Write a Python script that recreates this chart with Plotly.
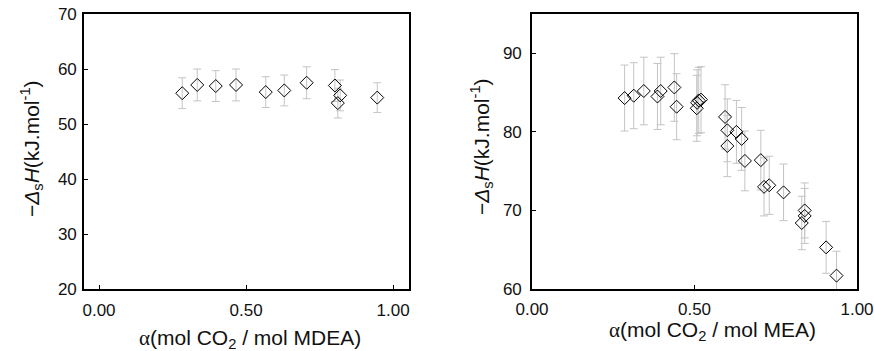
import plotly.graph_objects as go

# Left panel: MDEA
mdea_alpha = [0.283, 0.334, 0.397, 0.466, 0.567, 0.630, 0.706, 0.802, 0.820, 0.812, 0.946]
mdea_dh = [55.6, 57.1, 56.9, 57.1, 55.8, 56.1, 57.5, 57.0, 55.2, 53.8, 54.8]
mdea_err = [2.8, 2.9, 2.8, 2.9, 2.8, 2.8, 2.9, 2.9, 2.8, 2.7, 2.7]

# Right panel: MEA
mea_alpha = [0.285, 0.313, 0.344, 0.386, 0.396, 0.438, 0.445, 0.507, 0.508, 0.513, 0.520,
             0.594, 0.601, 0.601, 0.629, 0.645, 0.655, 0.704, 0.714, 0.730, 0.774,
             0.839, 0.839, 0.830, 0.905, 0.937]
mea_dh = [84.3, 84.6, 85.2, 84.5, 85.2, 85.65, 83.2, 83.0, 83.7, 84.0, 84.1,
          81.9, 80.2, 78.2, 80.0, 79.1, 76.3, 76.4, 73.0, 73.2, 72.3,
          70.0, 69.3, 68.4, 65.3, 61.7]
mea_err = [4.2, 4.2, 4.3, 4.2, 4.3, 4.3, 4.2, 4.2, 4.2, 4.2, 4.2,
           4.1, 4.0, 3.9, 4.0, 4.0, 3.8, 3.8, 3.7, 3.7, 3.6,
           3.5, 3.5, 3.4, 3.3, 3.1]

x_ticks = [0.0, 0.5, 1.0]
x_ticklabels = ["0.00", "0.50", "1.00"]
left_yticks = [20, 30, 40, 50, 60, 70]
right_yticks = [60, 70, 80, 90]

FONT = "Liberation Sans, Arial, sans-serif"

fig = go.Figure()

marker = dict(symbol="diamond-open", size=10, color="black", line=dict(width=1, color="black"))
errstyle = dict(type="data", visible=True, color="#c4c4c4", thickness=1, width=4)

fig.add_trace(go.Scatter(x=mdea_alpha, y=mdea_dh, mode="markers", marker=marker,
                         error_y=dict(array=mdea_err, **errstyle),
                         xaxis="x", yaxis="y", showlegend=False))
fig.add_trace(go.Scatter(x=mea_alpha, y=mea_dh, mode="markers", marker=marker,
                         error_y=dict(array=mea_err, **errstyle),
                         xaxis="x2", yaxis="y2", showlegend=False))

W, H = 874, 351
def px(x):
    return x / W
def py(y):
    return 1 - y / H

axis_common = dict(showgrid=False, zeroline=False, showline=True, linecolor="black",
                   linewidth=1.6, mirror=True, ticks="inside", ticklen=4, tickwidth=1,
                   tickcolor="black", automargin=False,
                   tickfont=dict(family=FONT, size=17, color="#111"))

fig.update_layout(
    template="none",
    width=W, height=H, margin=dict(l=0, r=0, t=0, b=0, pad=0),
    paper_bgcolor="white", plot_bgcolor="white",
    xaxis=dict(domain=[px(84), px(409)], range=[-0.051, 1.054], anchor="y",
               tickvals=x_ticks, ticktext=x_ticklabels, ticklabelstandoff=5, **axis_common),
    yaxis=dict(domain=[py(289), py(14)], range=[20, 70], anchor="x",
               tickvals=left_yticks, ticklabelstandoff=2, **axis_common),
    xaxis2=dict(domain=[px(532), px(857)], range=[0, 1], anchor="y2",
                tickvals=x_ticks, ticktext=x_ticklabels, ticklabelstandoff=4, **axis_common),
    yaxis2=dict(domain=[py(289), py(14)], range=[60, 95], anchor="x2",
                tickvals=right_yticks, ticklabelstandoff=5, **axis_common),
)

ytitle = "\u2212<i>\u0394</i><sub>s</sub><i>H</i>(kJ.mol<sup>-1</sup>)"
alpha = '<span style="font-family:Liberation Serif, serif">\u03b1</span>'
xtitle_left = alpha + "(mol CO<sub>2</sub> / mol MDEA)"
xtitle_right = alpha + "(mol CO<sub>2</sub> / mol MEA)"

tfont = dict(family=FONT, size=21, color="#111")
fig.add_annotation(text=ytitle, x=px(31), y=py(149), xref="paper", yref="paper",
                   textangle=-90, showarrow=False, font=tfont, xanchor="center", yanchor="middle")
fig.add_annotation(text=ytitle, x=px(481), y=py(146), xref="paper", yref="paper",
                   textangle=-90, showarrow=False, font=tfont, xanchor="center", yanchor="middle")
fig.add_annotation(text=xtitle_left, x=px(250), y=py(339), xref="paper", yref="paper",
                   showarrow=False, font=tfont, xanchor="center", yanchor="middle")
fig.add_annotation(text=xtitle_right, x=px(712), y=py(331), xref="paper", yref="paper",
                   showarrow=False, font=tfont, xanchor="center", yanchor="middle")

fig.write_html("out.html")
